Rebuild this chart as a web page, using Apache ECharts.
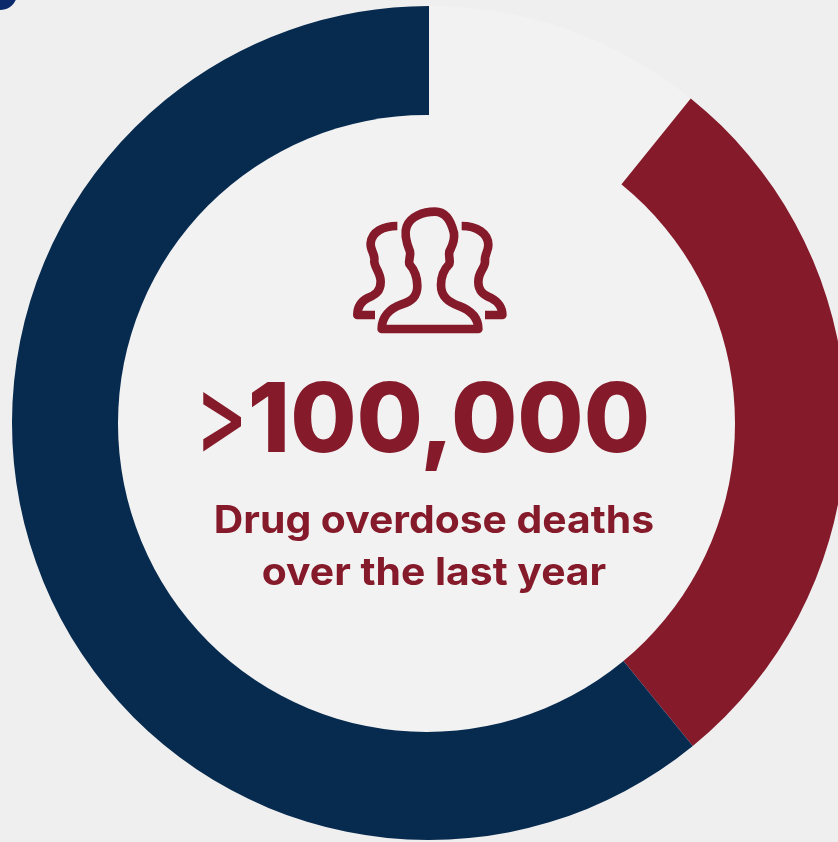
<!DOCTYPE html>
<html><head><meta charset="utf-8">
<style>html,body{margin:0;padding:0;background:#efefef}#c{width:838px;height:842px}</style>
<script src="https://cdn.jsdelivr.net/npm/echarts@6/dist/echarts.min.js"></script>
</head><body><div id="c"></div>
<script>
const categories = ['Other', 'Overdose share', 'Remainder'];
const values = [10.8, 28.3, 60.9];
const colors = ['#f2f2f2', '#851a2a', '#072a4f'];
const headlinePrefix = '>';
const headline = '100,000';
const caption = ['Drug overdose deaths', 'over the last year'];
const RED = '#851a2a';
const chart = echarts.init(document.getElementById('c'), null, {renderer:'canvas'});
const icon = [
 'M125 387C125 350 150 325 185 313C215 303 232 290 232 258C232 230 222 208 208 192C205 180 213 165 210 155C198 125 192 100 200 80C210 50 250 35 285 35C320 35 335 70 342 100C345 125 335 140 328 155C325 170 332 180 328 192C315 205 303 225 303 255C303 290 325 305 355 317C390 330 415 350 415 387Z',
 'M172 78C130 78 95 95 92 130C90 150 105 160 103 180C100 200 122 215 122 245C122 275 105 285 85 293C65 303 52 320 52 345L105 345',
 'M365 78C410 78 445 100 445 135C445 155 432 165 435 185C435 205 415 215 415 245C415 275 432 285 455 295C475 305 487 325 487 345L435 345'
];
const txt = (text,x,y,size,weight,family,sx,sy)=>({type:'text',z:10,x,y,scaleX:sx||1,scaleY:sy||1,silent:true,
  style:{text,fontFamily:family,fontSize:size,fontWeight:weight,fill:RED,align:'center',verticalAlign:'middle'}});
chart.setOption({
 animation:false,
 backgroundColor:'#efefef',
 series:[
  {type:'pie',silent:true,z:2,center:[429,423],radius:[290,417],startAngle:90,clockwise:true,
   label:{show:false},labelLine:{show:false},
   data:categories.map((n,i)=>({name:n,value:values[i],itemStyle:{color:colors[i]}}))},
  {type:'pie',silent:true,z:3,center:[426.5,423.5],radius:[0,308.5],label:{show:false},labelLine:{show:false},
   data:[{value:1,itemStyle:{color:'#f2f2f2'}}]},
  {type:'custom',coordinateSystem:'none',silent:true,z:5,data:[0],
   renderItem:()=>({type:'group',children:icon.map(d=>({type:'path',x:340,y:200,scaleX:1/3,scaleY:1/3,
     shape:{pathData:d},
     style:{fill:'none',stroke:RED,lineWidth:26,lineJoin:'round',lineCap:'butt'}}))})}
 ],
 graphic:[
  {type:'ellipse',z:10,shape:{cx:0,cy:-6,rx:17,ry:16},style:{fill:'#0b2a6b'},silent:true},
  txt(headlinePrefix,221,420,96,500,'Inter',0.83,1.15),
  txt(headline,449,423,96,800,'Inter'),
  txt(caption[0],434,522,38,700,'Inter',1.075),
  txt(caption[1],434,574,38,700,'Inter',1.075)
 ]
});
</script></body></html>
